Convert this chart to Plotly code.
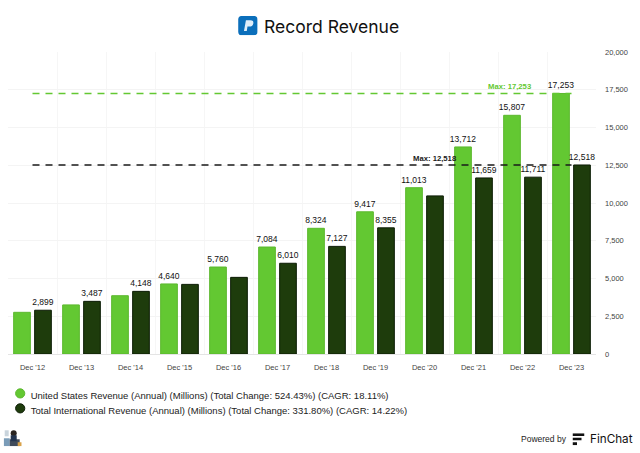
import base64
import plotly.graph_objects as go

categories = ["Dec '12", "Dec '13", "Dec '14", "Dec '15", "Dec '16", "Dec '17",
              "Dec '18", "Dec '19", "Dec '20", "Dec '21", "Dec '22", "Dec '23"]
us_revenue = [2760, 3250, 3860, 4640, 5760, 7084, 8324, 9417, 11013, 13712, 15807, 17253]
intl_revenue = [2899, 3487, 4148, 4610, 5075, 6010, 7127, 8355, 10470, 11659, 11711, 12518]
us_labelled = [False, False, False, True, True, True, True, True, True, True, True, True]
intl_labelled = [True, True, True, False, False, True, True, True, False, True, True, True]
us_name = "United States Revenue (Annual) (Millions) (Total Change: 524.43%) (CAGR: 18.11%)"
intl_name = "Total International Revenue (Annual) (Millions) (Total Change: 331.80%) (CAGR: 14.22%)"
y_ticks = [0, 2500, 5000, 7500, 10000, 12500, 15000, 17500, 20000]

GREEN = "#63c832"
DARK = "#1e3c0c"
FONT = "Liberation Sans"
W, H = 640, 453
L, R, T, B = 8.3, 43.5, 51.7, 98.5
PW, PH = W - L - R, H - T - B


def fx(x):
    return (x - L) / PW


def fy(y):
    return 1 - (y - T) / PH


def svg(body, w, h):
    s = f'<svg xmlns="http://www.w3.org/2000/svg" viewBox="0 0 {w} {h}" width="{w*4}" height="{h*4}">{body}</svg>'
    return "data:image/svg+xml;base64," + base64.b64encode(s.encode()).decode()


def pic(source, x, y, w, h):
    return dict(source=source, xref="paper", yref="paper", xanchor="left", yanchor="top",
                x=fx(x), y=fy(y), sizex=w / PW, sizey=h / PH, sizing="stretch", layer="above")


def labels(values, flags):
    return [f"{v:,}" if f else "" for v, f in zip(values, flags)]


def dot(cx, cy, r, fill, edge):
    return dict(type="circle", xref="paper", yref="paper", x0=fx(cx - r), x1=fx(cx + r),
                y0=fy(cy + r), y1=fy(cy - r), fillcolor=fill, line=dict(color=edge, width=1))


fig = go.Figure()
fig.add_bar(x=categories, y=us_revenue, name=us_name, showlegend=False,
            marker=dict(color=GREEN, line=dict(color="#5cb82e", width=1)),
            text=labels(us_revenue, us_labelled), textposition="outside", cliponaxis=False, constraintext="none",
            textfont=dict(family=FONT, size=8.5, color="#111"))
fig.add_bar(x=categories, y=intl_revenue, name=intl_name, showlegend=False,
            marker=dict(color=DARK, line=dict(color="#0c1c05", width=1)),
            text=labels(intl_revenue, intl_labelled), textposition="outside", cliponaxis=False, constraintext="none",
            textfont=dict(family=FONT, size=8.5, color="#111"))
fig.add_scatter(x=categories, y=[max(us_revenue)] * len(categories), mode="lines", showlegend=False,
                line=dict(color=GREEN, width=1.3, dash="7px,6px"), hoverinfo="skip")
fig.add_scatter(x=categories, y=[max(intl_revenue)] * len(categories), mode="lines", showlegend=False,
                line=dict(color="#1a1a1a", width=1.3, dash="7px,6px"), hoverinfo="skip")
# legend entries: the text is the real legend, the round swatches are drawn as shapes beside it
fig.add_scatter(x=[None], y=[None], mode="markers", name=us_name, legend="legend",
                marker=dict(color="rgba(0,0,0,0)", size=1))
fig.add_scatter(x=[None], y=[None], mode="markers", name=intl_name, legend="legend2",
                marker=dict(color="rgba(0,0,0,0)", size=1))

fig.add_annotation(x=10, y=max(us_revenue), text=f"Max: {max(us_revenue):,}", showarrow=False,
                   xanchor="right", yanchor="bottom", xshift=10, yshift=0,
                   font=dict(family=FONT, size=7.7, color=GREEN, weight="bold"))
fig.add_annotation(x=9, y=max(intl_revenue), text=f"Max: {max(intl_revenue):,}", showarrow=False,
                   xanchor="right", yanchor="bottom", xshift=-15, yshift=0,
                   font=dict(family=FONT, size=7.7, color="#1a1a1a", weight="bold"))
fig.add_annotation(xref="paper", yref="paper", x=fx(262), y=fy(26), text="Record Revenue", showarrow=False,
                   xanchor="left", yanchor="middle",
                   font=dict(family="Inter", size=17.5, color="#111"))
fig.add_annotation(xref="paper", yref="paper", x=fx(569), y=fy(440), text="Powered by", showarrow=False,
                   xanchor="right", yanchor="middle", font=dict(family=FONT, size=8.5, color="#222"))
fig.add_annotation(xref="paper", yref="paper", x=fx(588), y=fy(440), text="FinChat", showarrow=False,
                   xanchor="left", yanchor="middle", font=dict(family="Inter", size=11.7, color="#111"))

paypal = svg('<rect width="20" height="20" rx="4" fill="#0b6fbb"/>'
             '<path d="M6 15.5 8 4.5h4.6c2.4 0 3.4 1.3 3 3.2-.4 2.2-2 3.3-4.2 3.3H9.6L8.9 15.5z" fill="#dfeefa"/>', 20, 20)
photo = svg('<rect x="0" y="9" width="6" height="8" fill="#7a9cb8"/><rect x="6" y="10" width="10" height="7" fill="#3f4a5a"/>'
            '<circle cx="10" cy="4" r="3" fill="#2a2420"/><rect x="7" y="6" width="6" height="6" fill="#23344f"/>'
            '<rect x="14" y="13" width="4" height="4" fill="#d9a24a"/><rect x="1" y="1" width="4" height="6" fill="#c9d4dc"/>', 18, 17)
finchat = svg('<path d="M0 0h12v2.6H0zM0 4.5h9v2.6H0zM0 9h4.5v3H0z" fill="#111"/>', 12, 12)
images = [pic(paypal, 238.5, 15.5, 19.5, 19.5), pic(photo, 4, 430, 18, 17), pic(finchat, 573, 434, 12, 12)]


def legend_box(top):
    return dict(x=fx(-9), xanchor="left", y=fy(top), yanchor="top", bgcolor="rgba(0,0,0,0)",
                font=dict(family=FONT, size=9.5, color="#222"), itemwidth=30)


fig.update_layout(
    width=W, height=H, margin=dict(l=L, r=R, t=T, b=B, autoexpand=False), autosize=False,
    paper_bgcolor="white", plot_bgcolor="white", barmode="group", bargap=0.143, bargroupgap=0.205,
    images=images, font=dict(family=FONT),
    shapes=[dot(20.5, 394, 4.6, GREEN, "#5cb82e"), dot(20.5, 409, 4.6, DARK, "#0c1c05")],
    legend=legend_box(381), legend2=legend_box(396),
    xaxis=dict(type="category", tickson="boundaries", showgrid=True, gridcolor="#f6f6f6", showline=True,
               linecolor="#e4e4e4", ticks="", ticklabelstandoff=6,
               tickfont=dict(family=FONT, size=7.5, color="#444")),
    yaxis=dict(side="right", range=[0, 20000], tickvals=y_ticks, tickformat=",", gridcolor="#f4f4f4",
               zeroline=False, tickfont=dict(family=FONT, size=7.5, color="#444"), ticklabelstandoff=8),
)
fig.write_html("out.html", config=dict(displayModeBar=False), post_script="document.body.style.margin='0';")
